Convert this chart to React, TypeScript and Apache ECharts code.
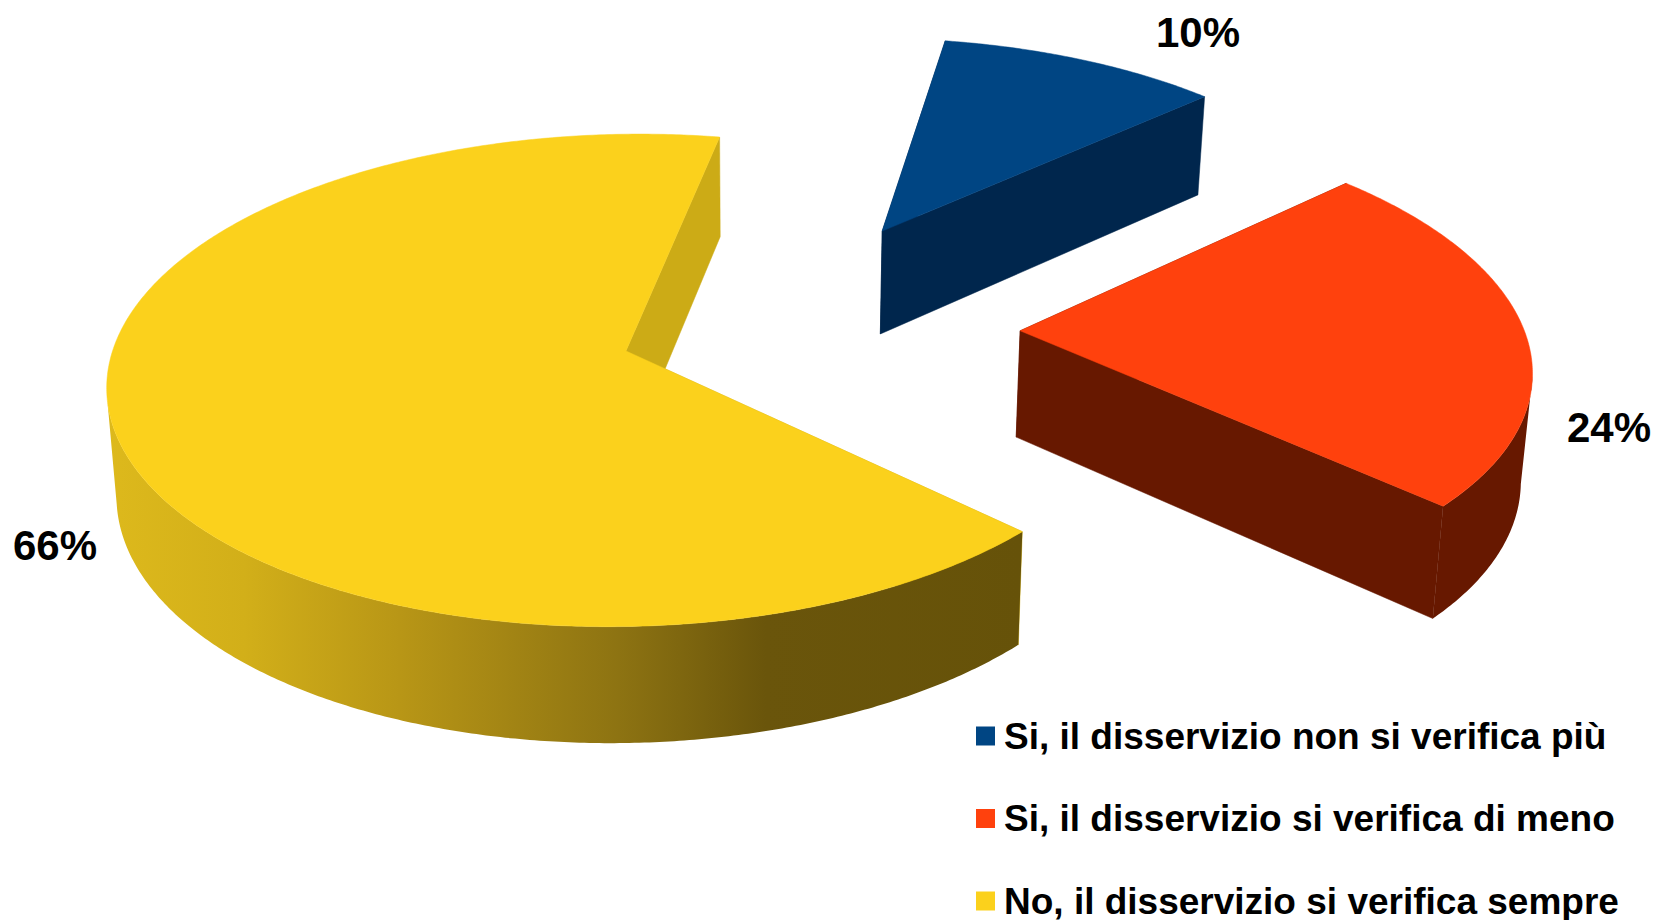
import React, { useEffect, useRef } from "react";
import * as echarts from "echarts";

const categories = [
  "Si, il disservizio non si verifica più",
  "Si, il disservizio si verifica di meno",
  "No, il disservizio si verifica sempre",
];
const shareValues = [10.45, 23.75, 65.8];

const topColors = ["#004583", "#FF410D", "#FBD11C"];
const sideColors = ["#00264D", "#671800", "#CCAB16"];
const rimGradientStops = [
  { offset: 0, color: "#DDB91C" },
  { offset: 0.15, color: "#D2AF19" },
  { offset: 0.32, color: "#B89616" },
  { offset: 0.56, color: "#8D7312" },
  { offset: 0.72, color: "#6A550B" },
  { offset: 1, color: "#665209" },
];
const explodeAngles = [291, 10.6, 157];
const explodeDistances = [0.39, 0.404, 0.404];
const sliceRadii = [0.993, 0.987, 0.995];
const labelAnchors = [
  [1198, 32],
  [1609, 427],
  [55, 545.5],
];

const START_ANGLE = 280;
const CENTER = [0.116, -0.158];
const VANISH_X = 758;
const ORIGIN_Y = 351;
const SCALE_U = 516;
const SCALE_V = 244;
const PERSPECTIVE = 0.12;
const rad = (a: number) => (a * Math.PI) / 180;

function project(u: number, v: number, bottom: boolean) {
  const s = 1 / (1 - PERSPECTIVE * v);
  let x = VANISH_X + SCALE_U * u * s;
  let y = ORIGIN_Y + SCALE_V * v * s;
  if (bottom) {
    y += 37 + 70 * s;
    x = VANISH_X + (x - VANISH_X) * 0.985;
  }
  return [x, y];
}

function renderSlice(index: number) {
  return (_params: any, api: any) => {
    const value = api.value(0);
    const total = shareValues.reduce((a, b) => a + b, 0);
    const before = shareValues.slice(0, index).reduce((a, b) => a + b, 0);
    const a0 = START_ANGLE + (before / total) * 360;
    const a1 = a0 + (value / total) * 360;
    const e = rad(explodeAngles[index]);
    const cu = CENTER[0] + explodeDistances[index] * Math.cos(e);
    const cv = CENTER[1] + explodeDistances[index] * Math.sin(e);
    const r = sliceRadii[index];
    const rimAt = (a: number, bottom: boolean) =>
      project(cu + r * Math.cos(rad(a)), cv + r * Math.sin(rad(a)), bottom);

    const angles: number[] = [];
    const steps = Math.ceil(a1 - a0) * 2;
    for (let i = 0; i <= steps; i++) angles.push(a0 + ((a1 - a0) * i) / steps);

    const top = [project(cu, cv, false), ...angles.map((a) => rimAt(a, false))];
    // the part of the rim that faces the viewer, ending where the wall is tangent to the top face
    const visible = angles.filter((a) => Math.sin(rad(a)) > 0.18);
    const children: any[] = [];

    [a0, a1].forEach((a) => {
      children.push({
        type: "polygon",
        shape: {
          points: [project(cu, cv, false), rimAt(a, false), rimAt(a, true), project(cu, cv, true)],
        },
        style: { fill: sideColors[index], stroke: sideColors[index], lineWidth: 0.5 },
      });
    });

    if (visible.length > 1) {
      const rimFill =
        index === 2
          ? new echarts.graphic.LinearGradient(0, 0, 1, 0, rimGradientStops)
          : sideColors[index];
      children.push({
        type: "polygon",
        shape: {
          points: [
            ...visible.map((a) => rimAt(a, false)),
            ...visible.slice().reverse().map((a) => rimAt(a, true)),
          ],
        },
        style: { fill: rimFill },
      });
    }

    children.push({
      type: "polygon",
      shape: { points: top },
      style: { fill: topColors[index], stroke: topColors[index], lineWidth: 0.5 },
    });

    children.push({
      type: "text",
      x: labelAnchors[index][0],
      y: labelAnchors[index][1],
      style: {
        text: `${Math.round((value / total) * 100)}%`,
        fill: "#000000",
        font: 'bold 42px "Liberation Sans", Arial, sans-serif',
        align: "center",
        verticalAlign: "middle",
      },
    });
    return { type: "group", children };
  };
}

export default function App() {
  const ref = useRef<HTMLDivElement>(null);
  useEffect(() => {
    const chart = echarts.init(ref.current!, undefined, { renderer: "svg" });
    chart.setOption({
      animation: false,
      backgroundColor: "#FFFFFF",
      legend: {
        orient: "vertical",
        left: 976,
        top: 717.5,
        height: 260,
        padding: 0,
        itemWidth: 19,
        itemHeight: 19,
        itemGap: 45.5,
        icon: "rect",
        selectedMode: false,
        data: categories,
        textStyle: {
          color: "#000000",
          fontFamily: '"Liberation Sans", Arial, sans-serif',
          fontWeight: "bold",
          fontSize: 37,
          padding: [0, 0, 0, 4],
        },
      },
      series: categories.map((name, i) => ({
        type: "custom",
        name,
        coordinateSystem: "none",
        silent: true,
        itemStyle: { color: topColors[i] },
        data: [[shareValues[i]]],
        renderItem: renderSlice(i),
      })),
    });
    return () => chart.dispose();
  }, []);
  return <div ref={ref} style={{ position: "fixed", left: 0, top: 0, width: 1657, height: 920 }} />;
}
